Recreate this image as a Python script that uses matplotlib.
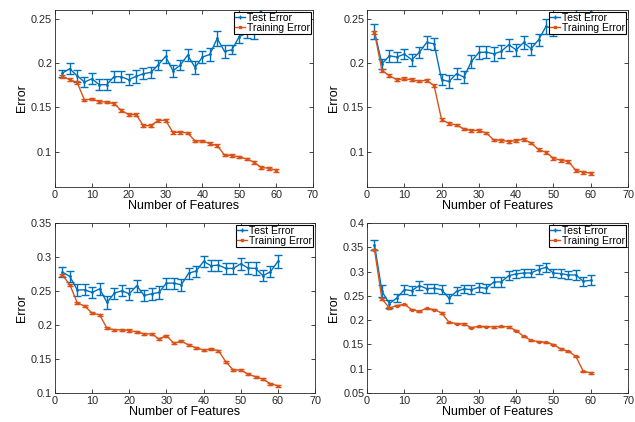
import numpy as np
import matplotlib
matplotlib.use("Agg")
import matplotlib.pyplot as plt
from matplotlib.lines import Line2D

plt.rcParams["font.family"] = ["Liberation Sans", "DejaVu Sans"]

# ================= DATA =================
n_features = list(range(2, 61, 2))

# top left
test_a = [0.1887, 0.1936, 0.1857, 0.1786, 0.1823, 0.1756, 0.1756, 0.1846, 0.1846, 0.1812,
          0.1850, 0.1880, 0.1895, 0.1980, 0.2075, 0.1914, 0.1977, 0.2090, 0.1950, 0.2068,
          0.2098, 0.2278, 0.2132, 0.2150, 0.2300, 0.2338, 0.2335, 0.2620, 0.2680, 0.2750]
test_a_err = [0.004, 0.006, 0.007, 0.006, 0.006, 0.006, 0.006, 0.006, 0.006, 0.006,
              0.007, 0.006, 0.006, 0.006, 0.007, 0.007, 0.006, 0.007, 0.007, 0.007,
              0.007, 0.008, 0.007, 0.005, 0.007, 0.006, 0.006, 0.007, 0.007, 0.007]
train_a = [0.1850, 0.1812, 0.1782, 0.1583, 0.1594, 0.1564, 0.1560, 0.1541, 0.1466, 0.1417,
           0.1417, 0.1293, 0.1293, 0.1353, 0.1353, 0.1218, 0.1218, 0.1211, 0.1120, 0.1120,
           0.1090, 0.1068, 0.0962, 0.0955, 0.0940, 0.0917, 0.0880, 0.0820, 0.0812, 0.0790]

# top right
test_b = [0.2357, 0.1990, 0.2083, 0.2068, 0.2102, 0.2038, 0.2120, 0.2233, 0.2218, 0.1812,
          0.1793, 0.1880, 0.1842, 0.2019, 0.2120, 0.2124, 0.2105, 0.2132, 0.2207, 0.2150,
          0.2233, 0.2162, 0.2263, 0.2414, 0.2390, 0.2450, 0.2500, 0.2550, 0.2500, 0.2580]
test_b_err = [0.008, 0.006, 0.007, 0.006, 0.006, 0.007, 0.006, 0.007, 0.007, 0.006,
              0.007, 0.006, 0.007, 0.007, 0.007, 0.007, 0.008, 0.007, 0.007, 0.007,
              0.007, 0.007, 0.007, 0.008, 0.008, 0.007, 0.007, 0.007, 0.007, 0.007]
train_b = [0.2346, 0.1917, 0.1857, 0.1812, 0.1823, 0.1812, 0.1797, 0.1805, 0.1744, 0.1360,
           0.1319, 0.1300, 0.1256, 0.1237, 0.1240, 0.1210, 0.1132, 0.1128, 0.1113, 0.1124,
           0.1139, 0.1098, 0.1023, 0.0992, 0.0925, 0.0902, 0.0887, 0.0789, 0.0767, 0.0756]

# bottom left
test_c = [0.2778, 0.2714, 0.2513, 0.2518, 0.2478, 0.2532, 0.2331, 0.2469, 0.2503, 0.2459,
          0.2577, 0.2434, 0.2459, 0.2478, 0.2616, 0.2616, 0.2591, 0.2763, 0.2793, 0.2935,
          0.2871, 0.2881, 0.2832, 0.2832, 0.2901, 0.2837, 0.2832, 0.2724, 0.2783, 0.2935]
test_c_err = [0.007, 0.008, 0.009, 0.008, 0.008, 0.009, 0.009, 0.008, 0.008, 0.009,
              0.009, 0.008, 0.009, 0.009, 0.008, 0.008, 0.009, 0.008, 0.008, 0.008,
              0.008, 0.008, 0.008, 0.008, 0.009, 0.009, 0.009, 0.008, 0.008, 0.009]
train_c = [0.2734, 0.2591, 0.2326, 0.2277, 0.2174, 0.2150, 0.1953, 0.1929, 0.1929, 0.1919,
           0.1899, 0.1869, 0.1869, 0.1796, 0.1845, 0.1732, 0.1761, 0.1707, 0.1663, 0.1633,
           0.1643, 0.1624, 0.1457, 0.1339, 0.1339, 0.1275, 0.1241, 0.1201, 0.1137, 0.1108]

# bottom right
test_d = [0.3554, 0.2594, 0.2340, 0.2457, 0.2628, 0.2608, 0.2711, 0.2649, 0.2656, 0.2628,
          0.2450, 0.2594, 0.2642, 0.2628, 0.2676, 0.2656, 0.2786, 0.2786, 0.2916, 0.2951,
          0.2971, 0.2971, 0.3040, 0.3088, 0.2971, 0.2957, 0.2930, 0.2930, 0.2800, 0.2820]
test_d_err = [0.010, 0.012, 0.008, 0.009, 0.009, 0.009, 0.009, 0.009, 0.009, 0.009,
              0.009, 0.008, 0.009, 0.009, 0.009, 0.009, 0.010, 0.010, 0.009, 0.009,
              0.009, 0.009, 0.009, 0.009, 0.008, 0.009, 0.009, 0.010, 0.009, 0.010]
train_d = [0.3451, 0.2436, 0.2251, 0.2299, 0.2327, 0.2217, 0.2183, 0.2244, 0.2217, 0.2148,
           0.1956, 0.1929, 0.1922, 0.1846, 0.1874, 0.1867, 0.1860, 0.1874, 0.1860, 0.1785,
           0.1668, 0.1586, 0.1558, 0.1545, 0.1497, 0.1407, 0.1359, 0.1256, 0.0948, 0.0914]

train_err = 0.0015

y_limits = [(0.06, 0.26), (0.06, 0.26), (0.1, 0.35), (0.05, 0.4)]
y_ticks = [
    [0.1, 0.15, 0.2, 0.25],
    [0.1, 0.15, 0.2, 0.25],
    [0.1, 0.15, 0.2, 0.25, 0.3, 0.35],
    [0.05, 0.1, 0.15, 0.2, 0.25, 0.3, 0.35, 0.4],
]
y_ticklabels = [
    ["0.1", "0.15", "0.2", "0.25"],
    ["0.1", "0.15", "0.2", "0.25"],
    ["0.1", "0.15", "0.2", "0.25", "0.3", "0.35"],
    ["0.05", "0.1", "0.15", "0.2", "0.25", "0.3", "0.35", "0.4"],
]
x_ticks = [0, 10, 20, 30, 40, 50, 60, 70]

BLUE = "#0072BD"
ORANGE = "#D95319"

# ================= PLOT =================
fig = plt.figure(figsize=(6.35, 4.22), dpi=100)

rects = [
    [0.0866, 0.5569, 0.4063, 0.4194],
    [0.5780, 0.5569, 0.4110, 0.4194],
    [0.0866, 0.0687, 0.4095, 0.4029],
    [0.5780, 0.0687, 0.4110, 0.4029],
]
panels = [
    (test_a, test_a_err, train_a),
    (test_b, test_b_err, train_b),
    (test_c, test_c_err, train_c),
    (test_d, test_d_err, train_d),
]

for i, (test, test_err, train) in enumerate(panels):
    ax = fig.add_axes(rects[i])

    ax.errorbar(n_features, test, yerr=test_err, color=BLUE, lw=1.0,
                elinewidth=1.0, capsize=3, capthick=1.0, marker=".",
                markersize=2)
    ax.errorbar(n_features, train, yerr=train_err, color=ORANGE, lw=1.0,
                elinewidth=1.0, capsize=2.5, capthick=1.0, marker="s",
                markersize=1.5)

    ax.set_xlim(0, 70)
    ax.set_ylim(*y_limits[i])
    ax.set_xticks(x_ticks)
    ax.set_yticks(y_ticks[i])
    ax.set_yticklabels(y_ticklabels[i])
    ax.tick_params(direction="in", top=True, right=True, labelsize=7.8,
                   length=3, width=0.6, pad=2, colors="#262626")
    for s in ax.spines.values():
        s.set_linewidth(0.6)
        s.set_color("#262626")

    ax.set_xlabel("Number of Features", fontsize=9, labelpad=0)
    ax.set_ylabel("Error", fontsize=9, labelpad=2)

    handles = [
        Line2D([], [], color=BLUE, lw=1.0, marker="+", markersize=3),
        Line2D([], [], color=ORANGE, lw=1.0, marker="s", markersize=1.5),
    ]
    leg = ax.legend(handles, ["Test Error", "Training Error"], loc="upper right",
                    fontsize=7.5, frameon=True, fancybox=False, framealpha=1,
                    edgecolor="black", borderpad=0.1, borderaxespad=0.15,
                    handlelength=1.0, handletextpad=0.2, labelspacing=0.0)
    leg.get_frame().set_linewidth(0.8)
    leg.set_zorder(10)

fig.savefig("out.png", dpi=100)
plt.close(fig)
